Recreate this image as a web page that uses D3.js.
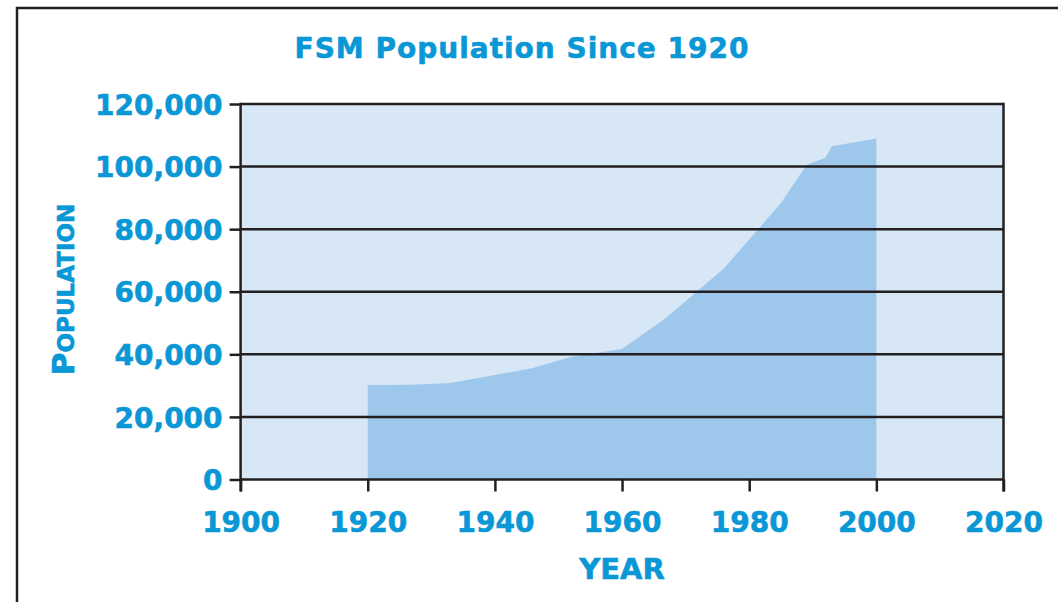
<!DOCTYPE html>
<html><head><meta charset="utf-8">
<script src="https://cdn.jsdelivr.net/npm/d3@7"></script>
<style>
body{margin:0;background:#fff}
svg text{font-family:"DejaVu Sans",sans-serif;font-weight:bold;fill:#0a97d6;stroke:#0a97d6;stroke-width:0.6px}
</style>
</head><body>
<svg id="c" width="1058" height="602"></svg>
<script>
const years = [1920,1927,1933,1946,1952,1960,1967,1976,1985,1989,1992,1993,2000];
const population = [30200,30300,30800,35600,39200,41700,51800,67400,88400,100500,102800,106500,109000];
const xTicks = [1900,1920,1940,1960,1980,2000,2020];
const yTicks = [0,20000,40000,60000,80000,100000,120000];
const titleText = "FSM Population Since 1920";
const xTitle = "YEAR";
const yTitleFirst = "P", yTitleRest = "OPULATION";

const svg = d3.select("#c");
const m = {left:240.6, right:1003.5, top:104, bottom:479.5};
const ink = "#231f20";

const x = d3.scaleLinear().domain([1900,2020]).range([m.left, m.right]);
const y = d3.scaleLinear().domain([0,120000]).range([m.bottom, m.top]);

const data = years.map((yr,i)=>({year:yr, pop:population[i]}));

// page frame
svg.append("rect").attr("x",17).attr("y",8).attr("width",1200).attr("height",800)
  .attr("fill","none").attr("stroke",ink).attr("stroke-width",2.5);

// plot background
svg.append("rect").attr("x",m.left).attr("y",m.top)
  .attr("width",m.right-m.left).attr("height",m.bottom-m.top).attr("fill","#d7e7f6");

// area
svg.append("path").datum(data)
  .attr("fill","#9dc8eb")
  .attr("d", d3.area().x(d=>x(d.year)).y0(y(0)).y1(d=>y(d.pop)));

// gridlines
svg.append("g").selectAll("line").data(yTicks).join("line")
  .attr("x1",m.left).attr("x2",m.right)
  .attr("y1",d=>y(d)).attr("y2",d=>y(d))
  .attr("stroke",ink).attr("stroke-width",2.5);

// right border
svg.append("line").attr("x1",m.right).attr("x2",m.right).attr("y1",m.top-1.25).attr("y2",m.bottom+12)
  .attr("stroke",ink).attr("stroke-width",2.5);

// y axis
const ya = svg.append("g").attr("transform",`translate(${m.left},0)`)
  .call(d3.axisLeft(y).tickValues(yTicks).tickFormat(d3.format(",")).tickSize(11).tickSizeOuter(0).tickPadding(7));
ya.select(".domain").remove();
ya.selectAll(".tick line").attr("stroke",ink).attr("stroke-width",2.5);
ya.selectAll(".tick text").style("font-size","28px").attr("dy","0.36em");
svg.append("line").attr("x1",m.left).attr("x2",m.left).attr("y1",m.top-1.25).attr("y2",m.bottom+12)
  .attr("stroke",ink).attr("stroke-width",2.5);

// x axis
const xa = svg.append("g").attr("transform",`translate(0,${m.bottom})`)
  .call(d3.axisBottom(x).tickValues(xTicks).tickFormat(d3.format("d")).tickSize(12).tickSizeOuter(0).tickPadding(21));
xa.select(".domain").remove();
xa.selectAll(".tick line").attr("stroke",ink).attr("stroke-width",2.5);
xa.selectAll(".tick text").style("font-size","28px");

// title
svg.append("text").attr("x",522).attr("y",57.5).attr("text-anchor","middle")
  .style("font-size","28px").style("letter-spacing","1px").text(titleText);

// x title
svg.append("text").attr("x",(m.left+m.right)/2).attr("y",578.5).attr("text-anchor","middle")
  .style("font-size","29px").text(xTitle);

// y title (small caps)
const yt = svg.append("text").attr("transform","translate(74,289.5) rotate(-90)").attr("text-anchor","middle");
yt.append("tspan").style("font-size","31px").text(yTitleFirst);
yt.append("tspan").style("font-size","23px").text(yTitleRest);
</script>
</body></html>
